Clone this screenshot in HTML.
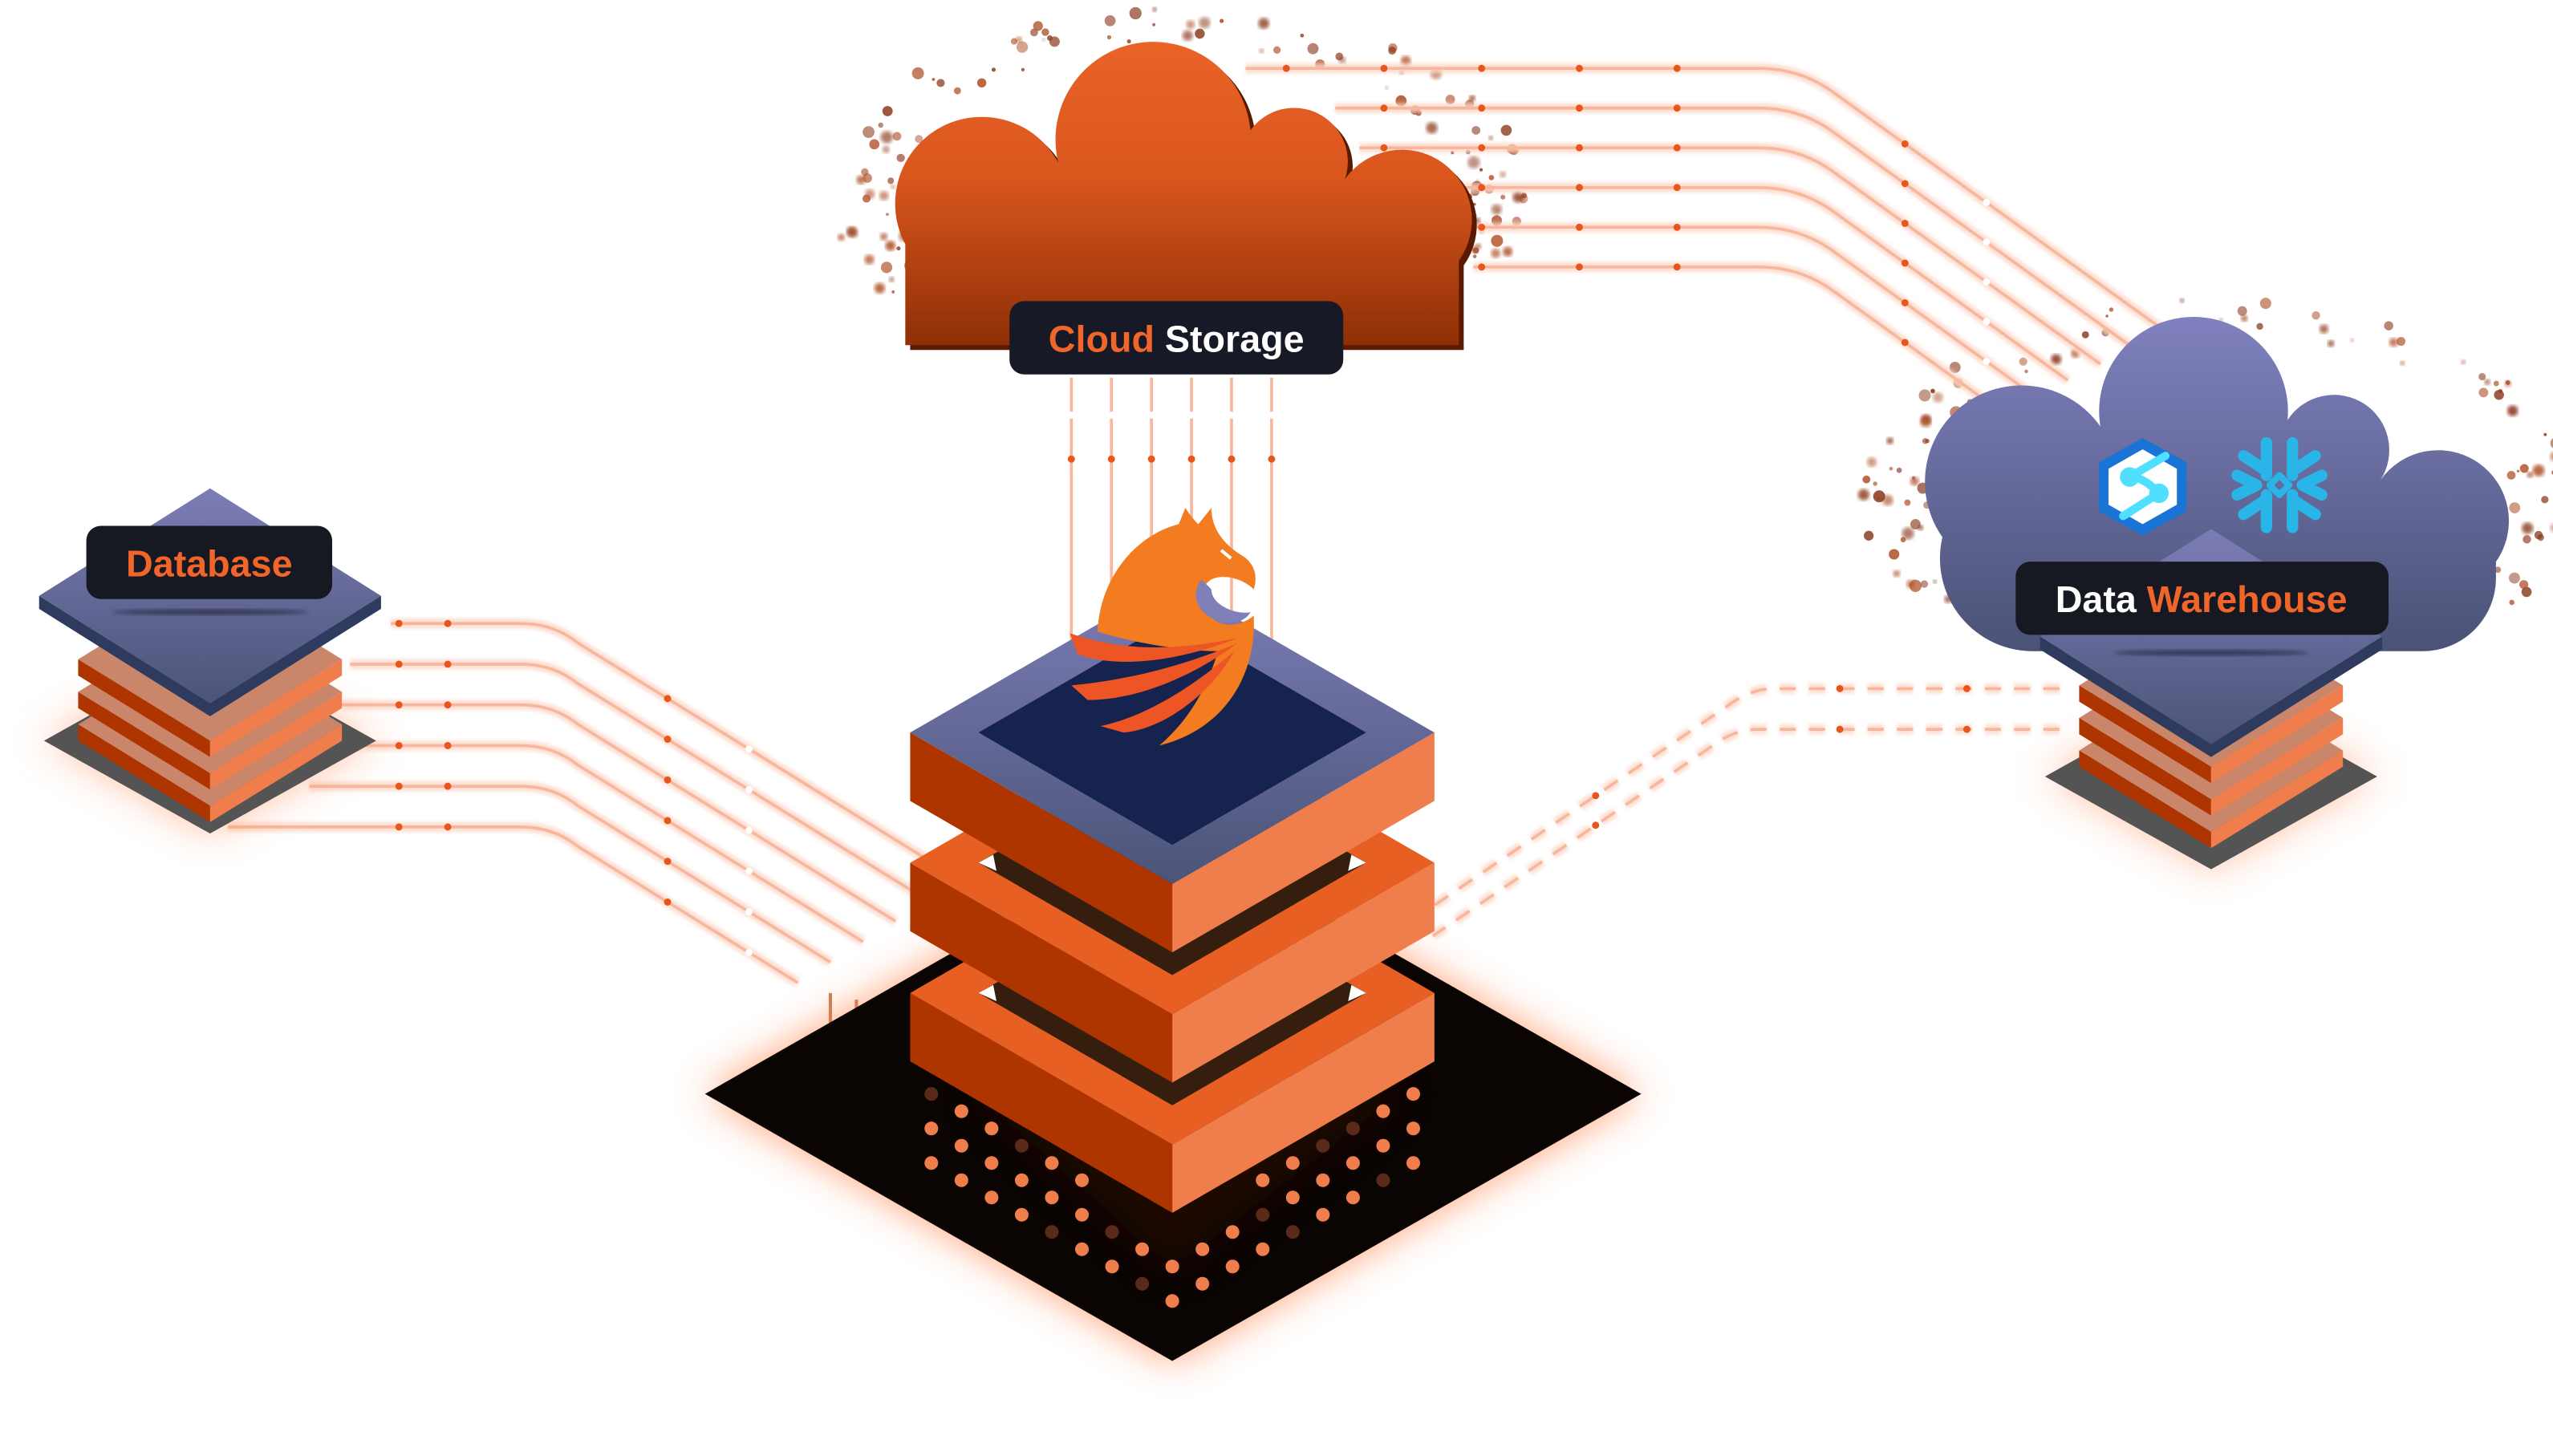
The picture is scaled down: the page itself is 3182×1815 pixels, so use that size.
<!DOCTYPE html>
<html><head><meta charset="utf-8"><style>
html,body{margin:0;padding:0;background:#fff;}
svg{display:block;}
text{font-family:"Liberation Sans",sans-serif;font-weight:700;}
</style></head><body>
<svg id="s" width="3182" height="1815" viewBox="0 0 1568 894.4" xmlns="http://www.w3.org/2000/svg">
<defs>
<linearGradient id="cg" x1="0" y1="0" x2="0" y2="1" gradientUnits="objectBoundingBox"><stop offset="0" stop-color="#ea6327"/><stop offset="0.45" stop-color="#d9561d"/><stop offset="1" stop-color="#8e2f06"/></linearGradient>
<linearGradient id="wg" x1="0" y1="0" x2="0" y2="1"><stop offset="0" stop-color="#8081bf"/><stop offset="1" stop-color="#4a5276"/></linearGradient>
<linearGradient id="tg" x1="0" y1="0" x2="0" y2="1"><stop offset="0" stop-color="#7c7db6"/><stop offset="1" stop-color="#4b5478"/></linearGradient>
<filter id="blur8" x="-30%" y="-30%" width="160%" height="160%"><feGaussianBlur stdDeviation="12"/></filter>
<filter id="blur3"><feGaussianBlur stdDeviation="3"/></filter>
<filter id="blur1"><feGaussianBlur stdDeviation="1.2"/></filter>
</defs>
<g id="specks"></g>
<g id="lines" fill="none"></g>

<polygon points="433,672 720,508 1008,672 720,836" fill="#ff7a3d" opacity="0.7" filter="url(#blur8)"/>
<polygon points="433,672 720,508 1008,672 720,836" fill="#0a0402"/>
<polygon points="600,672 720,600 860,672 720,780" fill="#2a0e04" opacity="0.6" filter="url(#blur8)"/>
<g id="plate"></g>

<g id="slabs"></g>

<path transform="translate(3,3)" d="M556,212 L556,150 A50,50 0 0 1 650,100 A60,60 0 1 1 768,80 A33,33 0 0 1 826,110 A40,40 0 0 1 896,160 L896,212 Z" fill="#5a1a02"/>
<path d="M556,212 L556,150 A50,50 0 0 1 650,100 A60,60 0 1 1 768,80 A33,33 0 0 1 826,110 A40,40 0 0 1 896,160 L896,212 Z" fill="url(#cg)"/>
<rect x="620" y="185" width="205" height="45" rx="9" fill="#171a26"/>
<text x="722.5" y="216" font-size="23" text-anchor="middle"><tspan fill="#f0652a">Cloud</tspan><tspan fill="#ffffff"> Storage</tspan></text>

<g id="db"></g>
<path d="M1193,330 A50,50 0 0 1 1290,262 A58,58 0 1 1 1405,258 A30,30 0 0 1 1462,295 A40,40 0 0 1 1533,345 L1533,355 A45,45 0 0 1 1488,400 L1250,400 A57,57 0 0 1 1193,330 Z" fill="url(#wg)"/>
<g id="wh"></g>
<g transform="translate(1316,299)">
<polygon points="0,-30 27,-15 27,15 0,30 -27,15 -27,-15" fill="#1a74d6"/>
<polygon points="0,-23 21,-11 21,11 0,23 -21,11 -21,-11" fill="#ffffff"/>
<path d="M-8,-6 L14,-19 M-8,-6 C0,-6 6,0 10,4 M10,4 L-12,18" stroke="#50e0ff" stroke-width="5" fill="none" stroke-linecap="round"/>
<circle cx="-8" cy="-6" r="6" fill="#50e0ff"/><circle cx="10" cy="4" r="6" fill="#50e0ff"/>
</g>
<g transform="translate(1400,298)" stroke="#29b5e8" stroke-width="7" stroke-linecap="round" stroke-linejoin="round" fill="none">
<path d="M-8,-26 L-8,-6 M8,-26 L8,-6 M-8,26 L-8,6 M8,26 L8,6"/>
<path d="M-22,-18 L-10,-10 M22,-18 L10,-10 M-22,18 L-10,10 M22,18 L10,10"/>
<path d="M-26,-6 L-14,0 L-26,6 M26,-6 L14,0 L26,6"/>
<polygon points="0,-6 6,0 0,6 -6,0" stroke-width="4"/>
</g>
<rect x="1238" y="345" width="229" height="45" rx="9" fill="#161822"/>
<text x="1352" y="376" font-size="23" text-anchor="middle"><tspan fill="#ffffff">Data </tspan><tspan fill="#f0652a">Warehouse</tspan></text>

<g id="bird">
<path d="M674,388 C676,352 700,328 724,322 L728,312 C732,318 734,320 736,322 L744,312 C744,325 752,335 764,342 C772,348 772,356 770,362 C764,356 752,352 744,356 C734,362 736,376 748,382 C756,386 766,382 770,378 C772,415 752,448 712,458 C726,446 740,428 748,400 C730,400 700,396 674,388 Z" fill="#f47c20"/>
<path d="M738,356 C730,366 736,378 750,382 C760,384 766,380 768,376 C760,378 744,372 744,362 Z" fill="#7f80b8"/>
<path d="M657,389 C690,400 720,400 760,392 C730,404 690,412 662,402 Z" fill="#ee5525"/>
<path d="M658,421 C690,418 725,410 760,395 C735,414 700,430 668,430 Z" fill="#ee5525"/>
<path d="M676,446 C705,440 735,420 758,400 C745,425 715,448 690,450 Z" fill="#ee5525"/>
<path d="M750,338 L756,343" stroke="#fff" stroke-width="2"/>
</g>
</svg>
<script>
var NS="http://www.w3.org/2000/svg";
function el(p,t,a){var e=document.createElementNS(NS,t);for(var k in a)e.setAttribute(k,a[k]);document.getElementById(p).appendChild(e);return e;}
var seed=7;function rnd(){seed=(seed*16807)%2147483647;return seed/2147483647;}
function specks(cx,cy,rx,ry,n){for(var i=0;i<n;i++){var a=rnd()*Math.PI*2,r=0.88+rnd()*0.22;var s=Math.sin(a);if(s<-0.6&&rnd()<0.6)continue;var x=cx+Math.cos(a)*rx*r,y=cy+s*ry*r;if(y>cy+ry*0.6)continue;var sz=rnd()*3+0.8;el("specks","circle",{cx:x,cy:y,r:sz,fill:rnd()<0.5?"#8a3a1e":"#b0522a",opacity:0.5+rnd()*0.4,filter:rnd()<0.4?"url(#blur1)":"none"});}}
specks(725,120,195,105,240);specks(1363,305,200,110,240);
function glowPath(d,dash){el("lines","path",{d:d,stroke:"#fcd6c6","stroke-width":6,opacity:0.8,filter:"url(#blur1)","stroke-dasharray":dash||"none"});el("lines","path",{d:d,stroke:"#f8b79c","stroke-width":1.8,"stroke-dasharray":dash||"none"});}
function dot(x,y,c){el("lines","circle",{cx:x,cy:y,r:2.2,fill:c||"#e8561e"});}
var sx=[765,820,835,870,900,905];
for(var i=0;i<6;i++){var y=42+24.4*i,ex=1330-20*i,dx=ex-1125;var d="M"+sx[i]+","+y+" L1080,"+y+" Q1105,"+y+" 1125,"+(y+14)+" L"+ex+","+(y+14+dx*0.72);glowPath(d);for(var x=790;x<1070;x+=60)if(x>sx[i])dot(x,y);dot(1170,y+14+45*0.72);dot(1220,y+14+95*0.72,"#fff");}
var dsx=[240,215,210,200,190,140];
for(var j=0;j<6;j++){var y=383+25*j,hx=320,ex=590-20*j;var d="M"+dsx[j]+","+y+" L"+hx+","+y+" Q"+(hx+20)+","+y+" "+(hx+35)+","+(y+12)+" L"+ex+","+(y+12+(ex-hx-35)*0.62);glowPath(d);dot(245,y);dot(275,y);dot(410,y+12+55*0.62);dot(460,y+12+105*0.62,"#fff");}
for(var k=0;k<2;k++){var y=423+25*k;var d="M1265,"+y+" L"+(1090-10*k)+","+y+" Q"+(1075-10*k)+","+y+" "+(1062-10*k)+","+(y+10)+" L"+(880)+","+(y+10+(1062-10*k-880)*0.68);glowPath(d,"10 8");dot(1130,y);dot(1208,y);dot(980,y+10+(1062-10*k-980)*0.68);}
for(var v=0;v<6;v++){var x=658+24.6*v;glowPath("M"+x+",232 L"+x+",440");dot(x,282);dot(x,255,"#fff");}
for(var v=0;v<6;v++){var x=510+16*v;el("lines","path",{d:"M"+x+","+(610+v*4)+" L"+x+",712",stroke:"#b8461a","stroke-width":2,opacity:0.7});el("lines","circle",{cx:x,cy:650+v*9,r:2,fill:v%2?"#fff":"#e8561e"});}
for(var u=-12;u<=12;u++)for(var w=-12;w<=12;w++){var x=720+(u-w)*18.5,y=672+(u+w)*10.6;if(Math.abs(x-720)/287+Math.abs(y-672)/164>0.9)continue;if(Math.abs(x-720)>150)continue;var by=652+(93-Math.abs(x-720)*93/161);if(y<by+12)continue;el("plate","circle",{cx:x,cy:y,r:4.2,fill:rnd()<0.72?"#f07d4c":"#5a2a18"});}
function slab(Y,top){var g="slabs";el(g,"polygon",{points:"559,"+Y+" 720,"+(Y+93)+" 720,"+(Y+135)+" 559,"+(Y+42),fill:"#ae3500"});el(g,"polygon",{points:"720,"+(Y+93)+" 881,"+Y+" 881,"+(Y+42)+" 720,"+(Y+135),fill:"#f07d4c"});
if(top){el(g,"polygon",{points:"559,"+Y+" 720,"+(Y-93)+" 881,"+Y+" 720,"+(Y+93),fill:"url(#tg)"});el(g,"polygon",{points:"601,"+Y+" 720,"+(Y-69)+" 839,"+Y+" 720,"+(Y+69),fill:"#16234f"});}
else{el(g,"polygon",{points:"559,"+Y+" 720,"+(Y-93)+" 881,"+Y+" 720,"+(Y+93),fill:"#e85f24"});el(g,"polygon",{points:"601,"+Y+" 720,"+(Y-69)+" 839,"+Y+" 720,"+(Y+69),fill:"#351e0e"});el(g,"polygon",{points:"601,"+Y+" 610,"+(Y-5)+" 612,"+(Y+5),fill:"#fff"});el(g,"polygon",{points:"839,"+Y+" 830,"+(Y-5)+" 828,"+(Y+5),fill:"#fff"});}}
slab(610,false);slab(530,false);slab(450,true);
function small(g,cx,gb,lt,tp){
el(g,"polygon",{points:(cx-102)+","+gb+" "+cx+","+(gb-57)+" "+(cx+102)+","+gb+" "+cx+","+(gb+57),fill:"#ff8a55",opacity:0.5,filter:"url(#blur8)"});
el(g,"polygon",{points:(cx-102)+","+gb+" "+cx+","+(gb-57)+" "+(cx+102)+","+gb+" "+cx+","+(gb+57),fill:"#545454"});
for(var i=lt.length-1;i>=0;i--){var Y=lt[i];el(g,"polygon",{points:(cx-81)+","+Y+" "+cx+","+(Y-50)+" "+(cx+81)+","+Y+" "+cx+","+(Y+50),fill:"#c9866a"});
el(g,"polygon",{points:(cx-81)+","+Y+" "+cx+","+(Y+50)+" "+cx+","+(Y+60)+" "+(cx-81)+","+(Y+10),fill:"#ae3500"});
el(g,"polygon",{points:cx+","+(Y+50)+" "+(cx+81)+","+Y+" "+(cx+81)+","+(Y+10)+" "+cx+","+(Y+60),fill:"#f07d4c"});}
el(g,"polygon",{points:(cx-105)+","+(tp+8)+" "+cx+","+(tp+74)+" "+(cx+105)+","+(tp+8)+" "+(cx+105)+","+tp+" "+cx+","+(tp+66)+" "+(cx-105)+","+tp,fill:"#2e3a5e"});
el(g,"polygon",{points:(cx-105)+","+tp+" "+cx+","+(tp-66)+" "+(cx+105)+","+tp+" "+cx+","+(tp+66),fill:"url(#tg)"});
el(g,"ellipse",{cx:cx,cy:tp+10,rx:60,ry:2,fill:"#2a2f48",opacity:0.7,filter:"url(#blur1)"});}
small("db",129,455,[405,425,445],366);
small("wh",1358,477,[421,441,461],391);
var g=document.getElementById("db");var r=document.createElementNS(NS,"rect");[["x",53],["y",323],["width",151],["height",45],["rx",9],["fill","#161822"]].forEach(function(a){r.setAttribute(a[0],a[1]);});g.appendChild(r);
var t=document.createElementNS(NS,"text");t.setAttribute("x",128.5);t.setAttribute("y",354);t.setAttribute("font-size",23);t.setAttribute("text-anchor","middle");t.setAttribute("fill","#f0652a");t.textContent="Database";g.appendChild(t);
</script>
</body></html>
